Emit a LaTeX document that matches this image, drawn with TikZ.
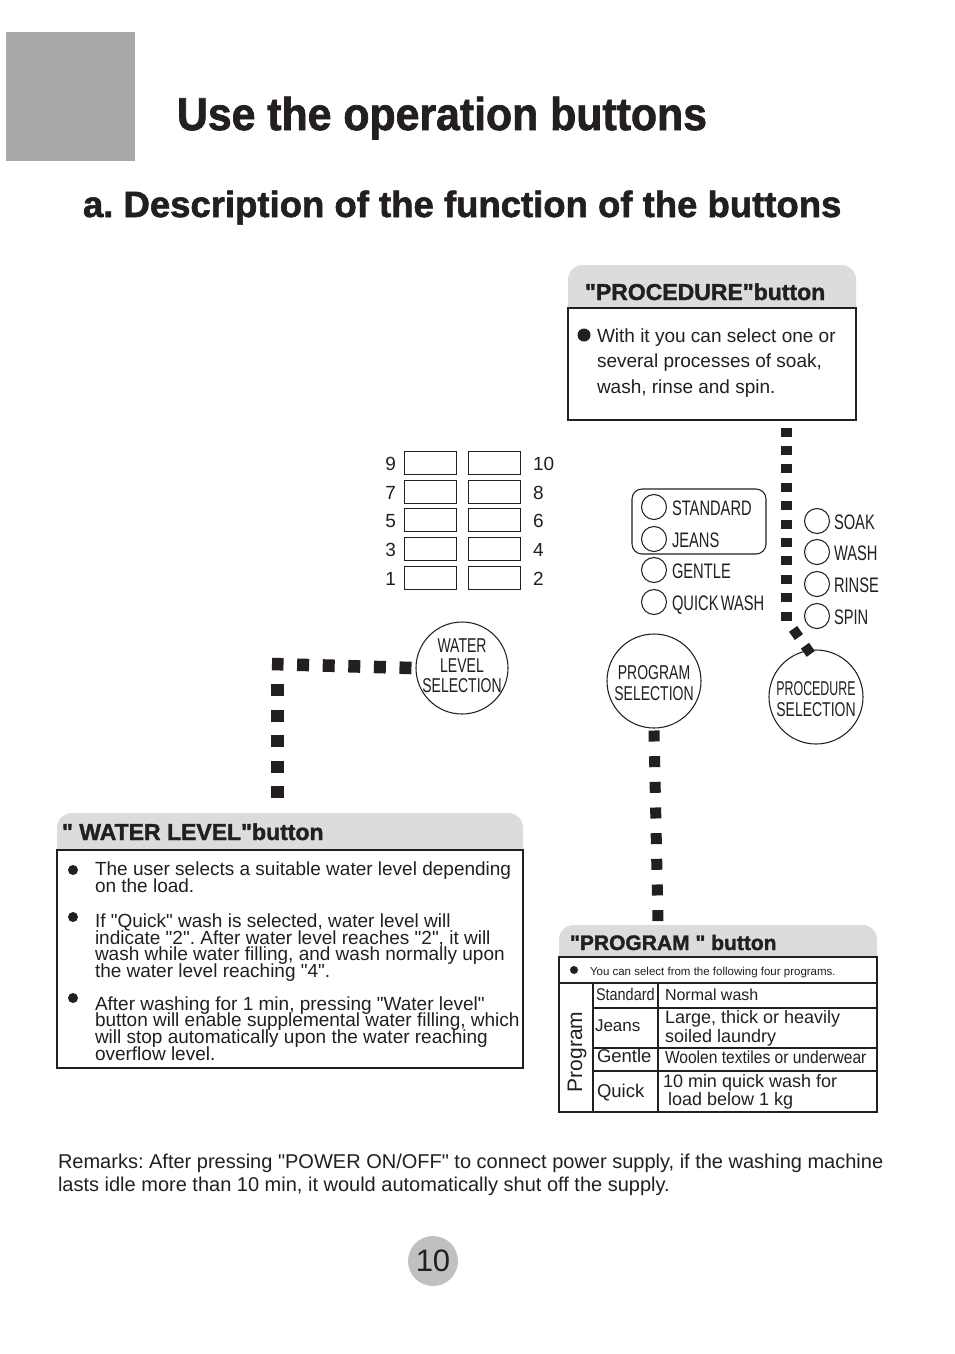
\documentclass[tikz,border=0pt]{standalone}
\usepackage{fontspec}
\setmainfont{Liberation Sans}
\newfontfamily\heavyfont{Liberation Sans Bold}[FakeBold=1.6]
\usepackage{graphicx}
\definecolor{sqgray}{HTML}{A9A9A9}
\definecolor{tabgray}{HTML}{DCDCDC}
\definecolor{pggray}{HTML}{C0C0C0}
\definecolor{ink}{HTML}{231F20}
\newcommand\fsz[2]{\fontsize{\fpeval{0.75*(#1)}pt}{\fpeval{0.75*(#2)}pt}\selectfont\lineskiplimit=-100pt\relax}
\newcommand\narrowtxt[1]{\scalebox{0.7}[1]{#1}}
\newcommand\qq{\textquotedbl}
\frenchspacing
\begin{document}
\begin{tikzpicture}[x=0.75pt,y=-0.75pt,
  txt/.style={inner sep=0pt, outer sep=0pt, anchor=base west, align=left, text=ink},
  hdr/.style={txt, font=\heavyfont\fsz{23}{26}},
  body/.style={txt, font=\fsz{19}{16.6}},
  boxline/.style={draw=ink, line width=1.5pt, fill=white},
  thinline/.style={draw=ink, line width=0.8pt},
  tabfill/.style={fill=tabgray, rounded corners=11pt},
  bigcirc/.style={circle, draw=ink, line width=0.8pt, minimum size=70.5pt, inner sep=0pt},
  smallcirc/.style={circle, draw=ink, line width=0.8pt, minimum size=18.75pt, inner sep=0pt},
  lvlbox/.style={draw=ink, line width=0.75pt, minimum width=39pt, minimum height=17.25pt, inner sep=0pt, anchor=north west},
  condlab/.style={txt, font=\fsz{21}{24}},
  circtxt/.style={inner sep=0pt, align=center, font=\fsz{20}{20.5}, text=ink},
  bulletdot/.style={circle, fill=ink, inner sep=0pt},
  wldot/.style={draw=ink, line width=9.4pt, dash pattern=on 9pt off 10.2pt},
  progdot/.style={draw=ink, line width=8.25pt, dash pattern=on 8.25pt off 11pt},
  procdot/.style={draw=ink, line width=8.25pt, dash pattern=on 6.75pt off 7.05pt},
  diagdot/.style={draw=ink, line width=7.5pt, dash pattern=on 7.5pt off 7.95pt},
]
\fill[white] (0,0) rectangle (954,1354);
\useasboundingbox (0,0) rectangle (954,1354);

% heading
\node[fill=sqgray, minimum size=96.75pt, inner sep=0pt, anchor=north west] (graysq) at (6,32) {};
\node[txt, font=\heavyfont\fsz{46}{50}] (title) at (177,130) {\scalebox{0.93}[1]{Use the operation buttons}};
\node[txt, font=\heavyfont\fsz{36.5}{40}] (subtitle) at (83,217) {a. Description of the function of the buttons};

% PROCEDURE box (multi-line texts are placed at the baseline of their last line)
\path[tabfill] (568,265) rectangle (856,330);
\node[hdr] (prochdr) at (585,300) {\qq PROCEDURE\qq button};
\draw[boxline] (568,308) rectangle (856,420);
\node[bulletdot, minimum size=9.75pt] (procbul) at (584,335) {};
\node[txt, font=\fsz{19}{25.5}] (proctext) at (597,393) {With it you can select one or\\several processes of soak,\\wash, rinse and spin.};

% water level indicator grid
\foreach \t/\l/\r [count=\i] in {451/9/10, 480/7/8, 508/5/6, 537/3/4, 566/1/2} {
  \node[lvlbox] (lvlL\i) at (404,\t) {};
  \node[lvlbox] (lvlR\i) at (468,\t) {};
  \node[txt, anchor=base east, font=\fsz{19}{20}] (numL\i) at (396,{\t+19}) {\l};
  \node[txt, font=\fsz{19}{20}] (numR\i) at (533,{\t+19}) {\r};
}

% program indicators
\draw[thinline, rounded corners=7.5pt] (632,489) rectangle (766,554);
\foreach \y/\lab [count=\i] in {507/STANDARD, 539/JEANS, 570/GENTLE, 602/QUICK\kern-2pt\ WASH} {
  \node[smallcirc] (pc\i) at (654,\y) {};
  \node[condlab] (pl\i) at (672,{\y+8}) {\narrowtxt{\lab}};
}
% procedure indicators
\foreach \y/\lab [count=\i] in {521/SOAK, 552/WASH, 584/RINSE, 616/SPIN} {
  \node[smallcirc] (sc\i) at (817,\y) {};
  \node[condlab] (sl\i) at (834,{\y+8}) {\narrowtxt{\lab}};
}

% selection buttons
\node[bigcirc] (progsel) at (654,681) {};
\node[circtxt] (progseltxt) at (654,683) {\narrowtxt{PROGRAM}\\\narrowtxt{SELECTION}};
\node[bigcirc] (procsel) at (816,697) {};
\node[circtxt] (procseltxt) at (816,699) {\scalebox{0.62}[1]{PROCEDURE}\\\narrowtxt{SELECTION}};
\node[bigcirc, minimum size=69pt] (wlsel) at (462,668) {};
\node[circtxt, font=\fsz{20}{20}] (wlseltxt) at (462,666) {\narrowtxt{WATER}\\\narrowtxt{LEVEL}\\\narrowtxt{SELECTION}};

% WATER LEVEL box
\path[tabfill] (57,813) rectangle (523,870);
\node[hdr] (wlhdr) at (62,840) {\qq\ WATER LEVEL\qq button};
\draw[boxline] (57,850) rectangle (523,1068);
\node[bulletdot, minimum size=7.5pt] (wlbul1) at (73,870) {};
\node[bulletdot, minimum size=7.5pt] (wlbul2) at (73,917) {};
\node[bulletdot, minimum size=7.5pt] (wlbul3) at (73,998) {};
\node[body] (wlp1) at (95,892) {The user selects a suitable water level depending\\on the load.};
\node[body] (wlp2) at (95,977.5) {If \qq Quick\qq{} wash is selected, water level will\\indicate \qq 2\qq. After water level reaches \qq 2\qq, it will\\wash while water filling, and wash normally upon\\the water level reaching \qq 4\qq.};
\node[body] (wlp3) at (95,1060) {After washing for 1 min, pressing \qq Water level\qq\\button will enable supplemental water filling, which\\will stop automatically upon the water reaching\\overflow level.};

% PROGRAM box
\path[tabfill] (559,925) rectangle (877,975);
\node[hdr, font=\heavyfont\fsz{21}{24}] (pghdr) at (570,950) {\qq PROGRAM \qq\ button};
\draw[boxline] (559,957) rectangle (877,1112);
\draw[thinline] (559,983) -- (877,983);
\draw[thinline] (593,983) -- (593,1112);
\draw[thinline] (658,983) -- (658,1112);
\draw[thinline] (593,1008) -- (877,1008);
\draw[thinline] (593,1048) -- (877,1048);
\draw[thinline] (593,1071) -- (877,1071);
\node[bulletdot, minimum size=6pt] (pgbul) at (574,970) {};
\node[txt, font=\fsz{11.5}{13}] (pgnote) at (590,975) {You can select from the following four programs.};
\node[inner sep=0pt, rotate=90, font=\fsz{21}{24}, text=ink] (pgside) at (577,1052) {Program};
\node[txt, font=\fsz{17}{18}] (c1a) at (596,1000) {\scalebox{0.85}[1]{Standard}};
\node[txt, font=\fsz{16}{18}] (c1b) at (665,1000) {Normal wash};
\node[txt, font=\fsz{17}{18}] (c2a) at (595,1031) {Jeans};
\node[txt, font=\fsz{18}{19}] (c2b) at (665,1042) {Large, thick or heavily\\soiled laundry};
\node[txt, font=\fsz{18.5}{19}] (c3a) at (597,1062) {Gentle};
\node[txt, font=\fsz{17.5}{19}] (c3b) at (665,1063) {\scalebox{0.89}[1]{Woolen textiles or underwear}};
\node[txt, font=\fsz{18.5}{19}] (c4a) at (597,1097) {Quick};
\node[txt, font=\fsz{18}{18}] (c4b) at (663,1105) {10 min quick wash for\\\hspace*{3.75pt}load below 1 kg};

% dotted connectors
\coordinate (wlA) at ([xshift=-3pt]wlsel.west);
\coordinate (wlB) at (272,664);
\coordinate (wlC) at (277.5,684);
\coordinate (wlD) at (277.5,800);
\draw[wldot] (wlA) -- (wlB);
\draw[wldot] (wlC) -- (wlD);
\coordinate (pgA) at (654,730.5);
\coordinate (pgB) at (658,921.5);
\draw[progdot] (pgA) -- (pgB);
\coordinate (prA) at (786,427.5);
\coordinate (prB) at (786,620.5);
\coordinate (prC) at (793.1,628.9);
\coordinate (prD) at (810.9,654.1);
\draw[procdot] (prA) -- (prB);
\draw[diagdot] (prC) -- (prD);

% remarks and page number
\node[txt, font=\fsz{20}{23}] (remarks) at (58,1191) {Remarks: After pressing \qq POWER ON/OFF\qq{} to connect power supply, if the washing machine\\lasts idle more than 10 min, it would automatically shut off the supply.};
\node[circle, fill=pggray, minimum size=37.5pt, inner sep=0pt] (pgnum) at (433,1261) {};
\node[inner sep=0pt, font=\fsz{31}{31}, text=ink] (pgnumtxt) at (pgnum.center) {10};
\end{tikzpicture}
\end{document}
